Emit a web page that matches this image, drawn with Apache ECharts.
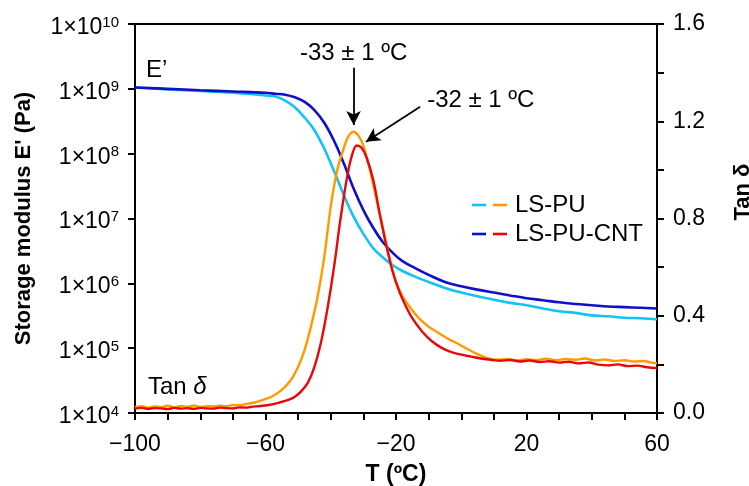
<!DOCTYPE html>
<html>
<head>
<meta charset="utf-8">
<script src="https://cdn.jsdelivr.net/npm/echarts@6/dist/echarts.min.js"></script>
<style>
  html, body { margin: 0; padding: 0; background: #fff; }
  #chart { width: 749px; height: 486px; }
</style>
</head>
<body>
<div id="chart"></div>
<script>
// Temperature grid for the storage modulus curves (ºC)
const tE = [-100, -90, -80, -70, -60, -57, -54, -51, -48, -45, -42, -39, -36, -33, -30,
  -27, -24, -21, -18, -14, -10, -5, 0, 5, 10, 15, 20, 25, 30, 35, 40, 45, 50, 55, 60];

// Storage modulus E' (Pa)
const ePU = [1.05e9, 9.8e8, 9.3e8, 8.7e8, 7.9e8, 7.6e8, 6.6e8, 5.2e8, 3.6e8, 2.3e8, 1.2e8,
  5.4e7, 2.3e7, 1.07e7, 5.8e6, 3.5e6, 2.5e6, 1.9e6, 1.55e6, 1.26e6, 1.05e6, 8.5e5, 7.2e5,
  6.3e5, 5.6e5, 5.0e5, 4.6e5, 4.1e5, 3.7e5, 3.5e5, 3.2e5, 3.1e5, 2.95e5, 2.9e5, 2.8e5];
const eCNT = [1.05e9, 1.0e9, 9.5e8, 9.1e8, 8.7e8, 8.4e8, 8.1e8, 7.4e8, 6.3e8, 4.7e8, 3.0e8,
  1.58e8, 7.1e7, 2.9e7, 1.35e7, 7.2e6, 4.3e6, 2.95e6, 2.2e6, 1.7e6, 1.35e6, 1.05e6, 9.0e5,
  8.0e5, 7.2e5, 6.5e5, 5.9e5, 5.5e5, 5.1e5, 4.8e5, 4.6e5, 4.4e5, 4.3e5, 4.2e5, 4.1e5];

// Tan delta, LS-PU
const tTanPU = [-100, -98, -96, -94, -92, -90, -88, -86, -84, -82, -80, -78, -76, -74, -72,
  -70, -68, -66, -64, -61, -58, -55, -52, -50, -48, -46, -44, -42, -40, -38, -36, -34.5,
  -33, -31.5, -30, -28, -26, -24, -22, -20, -18, -16, -13, -10, -7, -4, -1, 2, 5, 8, 11,
  14, 17, 20, 23, 26, 29, 32, 35, 38, 41, 44, 47, 50, 53, 56, 58, 60];
const tanPU = [0.024, 0.028, 0.022, 0.027, 0.025, 0.030, 0.024, 0.029, 0.026, 0.031, 0.025,
  0.028, 0.027, 0.030, 0.028, 0.033, 0.032, 0.037, 0.041, 0.053, 0.068, 0.095, 0.14, 0.19,
  0.26, 0.36, 0.48, 0.64, 0.85, 1.00, 1.09, 1.14, 1.157, 1.14, 1.10, 1.00, 0.88, 0.76, 0.64,
  0.54, 0.48, 0.44, 0.39, 0.355, 0.33, 0.305, 0.285, 0.262, 0.242, 0.226, 0.219, 0.222,
  0.216, 0.221, 0.218, 0.223, 0.217, 0.222, 0.219, 0.224, 0.216, 0.220, 0.214, 0.217,
  0.212, 0.214, 0.208, 0.204];

// Tan delta, LS-PU-CNT
const tTanCNT = [-100, -98, -96, -94, -92, -90, -88, -86, -84, -82, -80, -78, -76, -74, -72,
  -70, -68, -66, -64, -62, -59, -56, -53, -51, -49, -47, -45, -43, -41, -39, -37, -35,
  -33.5, -32, -30.5, -29, -27, -25, -23, -21, -19, -17, -15, -12, -9, -6, -3, 0, 3, 6, 9,
  12, 15, 18, 21, 24, 27, 30, 33, 36, 39, 42, 45, 48, 51, 54, 57, 60];
const tanCNT = [0.018, 0.021, 0.017, 0.020, 0.019, 0.016, 0.021, 0.018, 0.020, 0.017, 0.021,
  0.019, 0.018, 0.022, 0.020, 0.019, 0.023, 0.022, 0.026, 0.028, 0.033, 0.042, 0.054, 0.067,
  0.09, 0.125, 0.19, 0.29, 0.43, 0.60, 0.80, 0.97, 1.06, 1.10, 1.09, 1.05, 0.96, 0.82, 0.69,
  0.58, 0.50, 0.44, 0.39, 0.335, 0.295, 0.268, 0.25, 0.24, 0.232, 0.224, 0.219, 0.215,
  0.218, 0.212, 0.216, 0.21, 0.213, 0.207, 0.211, 0.204, 0.208, 0.199, 0.196, 0.2, 0.193,
  0.195, 0.188, 0.185];

// Tick settings
const xTicks = { min: -100, max: 60, step: 40 };
const tanTicks = { min: 0, max: 1.6, step: 0.4 };
const eRange = { min: 1e4, max: 1e10 };

// Peak annotations: label, arrow start and arrow tip in (ºC, tan δ)
const peakPU = { text: '-33 ± 1 ºC', from: [-33, 1.42], to: [-33, 1.185] };
const peakCNT = { text: '-32 ± 1 ºC', from: [-12.6, 1.26], to: [-29.2, 1.116] };

const C = { cyan: '#14C3F5', blue: '#1010C8', orange: '#FF9A00', red: '#E80808' };
const FONT = 'Liberation Sans, Arial, sans-serif';

const pairs = (xs, ys) => xs.map((x, i) => [x, ys[i]]);

const chart = echarts.init(document.getElementById('chart'), null, { renderer: 'canvas' });

const arrowLine = (p) => ({
  silent: true,
  symbol: ['none', 'arrow'],
  symbolSize: [11, 14],
  label: { show: false },
  lineStyle: { color: '#000', width: 1.8, type: 'solid' },
  emphasis: { disabled: true },
  data: [[{ coord: p.from }, { coord: p.to }]]
});

const axisLineStyle = { show: true, onZero: false, lineStyle: { color: '#000', width: 2 } };
const tickStyle = { show: true, inside: false, length: 7, lineStyle: { color: '#000', width: 2 } };

chart.setOption({
  animation: false,
  backgroundColor: '#fff',
  textStyle: { fontFamily: FONT },
  grid: {
    left: 135, right: 92, top: 24, bottom: 73, containLabel: false, outerBoundsMode: 'none',
    show: true, borderColor: '#000', borderWidth: 2
  },
  xAxis: {
    type: 'value', min: xTicks.min, max: xTicks.max, interval: xTicks.step,
    axisLine: axisLineStyle, axisTick: tickStyle, splitLine: { show: false },
    minorTick: { show: true, splitNumber: 4, length: 7, lineStyle: { color: '#000', width: 2 } },
    axisLabel: {
      margin: 20, fontSize: 23, color: '#000', fontFamily: FONT,
      formatter: v => (v < 0 ? '\u2212' + Math.abs(v) : String(v))
    },
    name: 'T (ºC)', nameLocation: 'middle', nameGap: 50,
    nameTextStyle: { fontSize: 23, fontWeight: 'bold', color: '#000', fontFamily: FONT }
  },
  yAxis: [
    {
      type: 'log', logBase: 10, min: eRange.min, max: eRange.max, splitNumber: 6,
      axisLine: axisLineStyle, axisTick: tickStyle, splitLine: { show: false },
      axisLabel: {
        margin: 16, color: '#000', fontFamily: FONT,
        formatter: v => '{m|1×10}{e|' + Math.round(Math.log10(v)) + '}',
        rich: {
          m: { fontSize: 23, fontFamily: FONT, color: '#000', verticalAlign: 'bottom', lineHeight: 30 },
          e: { fontSize: 15, fontFamily: FONT, color: '#000', verticalAlign: 'bottom', lineHeight: 30, padding: [0, 0, 9, 0] }
        }
      },
      name: "Storage modulus E' (Pa)", nameLocation: 'middle', nameGap: 100, nameRotate: 90,
      nameTextStyle: { fontSize: 22, fontWeight: 'bold', color: '#000', fontFamily: FONT }
    },
    {
      type: 'value', position: 'right', min: tanTicks.min, max: tanTicks.max, interval: tanTicks.step,
      axisLine: axisLineStyle, axisTick: tickStyle, splitLine: { show: false },
      minorTick: { show: true, splitNumber: 2, length: 7, lineStyle: { color: '#000', width: 2 } },
      axisLabel: { margin: 16, fontSize: 23, color: '#000', fontFamily: FONT, formatter: v => v.toFixed(1) }
    }
  ],
  series: [
    { name: 'E LS-PU', type: 'line', yAxisIndex: 0, data: pairs(tE, ePU), showSymbol: false,
      smooth: 0.4, lineStyle: { color: C.cyan, width: 2.6 }, z: 2 },
    { name: 'E LS-PU-CNT', type: 'line', yAxisIndex: 0, data: pairs(tE, eCNT), showSymbol: false,
      smooth: 0.4, lineStyle: { color: C.blue, width: 2.6 }, z: 3 },
    { name: 'tan LS-PU', type: 'line', yAxisIndex: 1, data: pairs(tTanPU, tanPU), showSymbol: false,
      smooth: 0.35, lineStyle: { color: C.orange, width: 2.4 }, z: 4, markLine: arrowLine(peakPU) },
    { name: 'tan LS-PU-CNT', type: 'line', yAxisIndex: 1, data: pairs(tTanCNT, tanCNT), showSymbol: false,
      smooth: 0.35, lineStyle: { color: C.red, width: 2.4 }, z: 5, markLine: arrowLine(peakCNT) }
  ]
});

// Text labels and legend, placed from the axes' own coordinate system
function tanPx(pt) { return chart.convertToPixel({ xAxisIndex: 0, yAxisIndex: 1 }, pt); }
const pPU = tanPx(peakPU.from);
const pCNT = tanPx(peakCNT.from);

const legendRows = [
  { label: 'LS-PU', c1: C.cyan, c2: C.orange, y: 205 },
  { label: 'LS-PU-CNT', c1: C.blue, c2: C.red, y: 234 }
];
const gfx = [];
legendRows.forEach(r => {
  gfx.push({ type: 'line', shape: { x1: 472, y1: r.y, x2: 486, y2: r.y }, style: { stroke: r.c1, lineWidth: 2.6 } });
  gfx.push({ type: 'line', shape: { x1: 493, y1: r.y, x2: 507, y2: r.y }, style: { stroke: r.c2, lineWidth: 2.6 } });
  gfx.push({ type: 'text', x: 515, y: r.y, style: { text: r.label, fontSize: 24, fontFamily: FONT, fill: '#000', verticalAlign: 'middle', align: 'left' } });
});
gfx.push({ type: 'text', x: pPU[0], y: pPU[1] - 14, style: { text: peakPU.text, fontSize: 24, fontFamily: FONT, fill: '#000', align: 'center', verticalAlign: 'middle' } });
gfx.push({ type: 'text', x: pCNT[0] + 7, y: pCNT[1] - 6, style: { text: peakCNT.text, fontSize: 24, fontFamily: FONT, fill: '#000', align: 'left', verticalAlign: 'middle' } });
gfx.push({ type: 'text', x: 146, y: 70, style: { text: 'E\u2019', fontSize: 24, fontFamily: FONT, fill: '#000', verticalAlign: 'middle' } });
gfx.push({ type: 'text', x: 148, y: 387, style: {
  text: '{a|Tan }{d|δ}', fontSize: 24, fontFamily: FONT, fill: '#000', verticalAlign: 'middle',
  rich: { a: { fontSize: 24, fontFamily: FONT }, d: { fontSize: 24, fontFamily: FONT, fontStyle: 'italic' } } } });
gfx.push({ type: 'text', x: 743, y: 192, rotation: Math.PI / 2, style: {
  text: 'Tan δ', fontSize: 22, fontWeight: 'bold', fontFamily: FONT, fill: '#000', align: 'center', verticalAlign: 'middle' } });
chart.setOption({ graphic: gfx });
</script>
</body>
</html>
